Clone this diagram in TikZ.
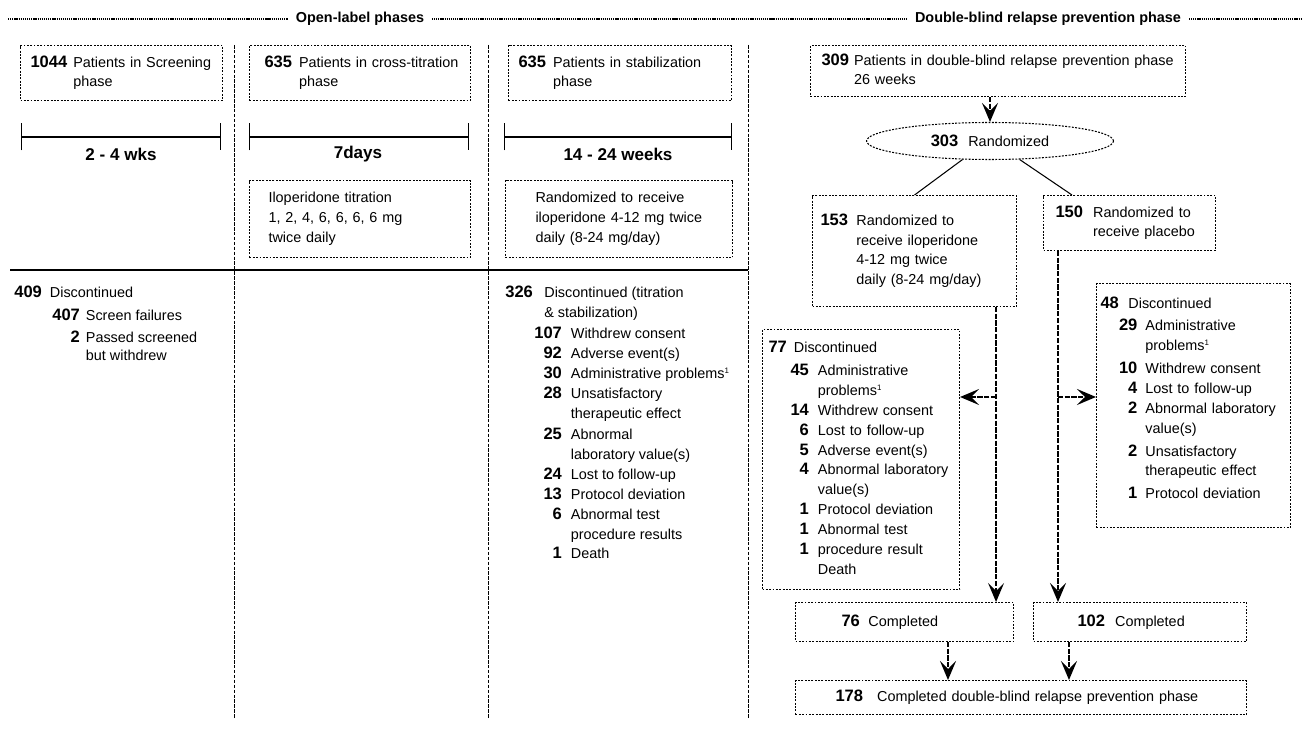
\documentclass[tikz,border=0pt]{standalone}
\usepackage{fontspec}
\setmainfont{Liberation Sans}
\usetikzlibrary{positioning,shapes.geometric,arrows.meta}

\newcommand{\nb}[1]{{\fontsize{9.4}{11.3}\selectfont\bfseries #1}}
\newcommand{\fn}{\textsuperscript{\fontsize{4.5}{5}\selectfont 1}}

\tikzset{
    box/.style={draw, dash pattern=on 1.1pt off 0.8pt, line width=0.6pt,
        anchor=north west, align=left, inner ysep=0pt},
    flow/.style={dash pattern=on 3pt off 0.8pt, line width=1pt,
        -{Stealth[length=3.8mm,width=3.2mm,inset=1.6mm]}},
    sep/.style={dash pattern=on 2pt off 0.8pt, line width=0.5pt},
    span/.style={line width=0.6pt, {Bar[width=5.4mm]}-{Bar[width=5.4mm]}},
    spanlabel/.style={font=\fontsize{9.7}{12}\selectfont\bfseries},
    phase/.style={fill=white, inner xsep=1.6mm, font=\fontsize{8.2}{10}\selectfont\bfseries}
}

\begin{document}
\begin{tikzpicture}[x=0.2mm, y=-0.2mm, font=\fontsize{8.2}{11.3}\selectfont]
\useasboundingbox (0,0) rectangle (1303,739);

% phases
\draw[line width=1.5pt, dash pattern=on 0.7pt off 0.5pt] (8,19) -- (1303,19);
\node[phase] (open) at (360,19) {Open-label phases};
\node[phase] (dbl) at (1048,19) {Double-blind relapse prevention phase};

\foreach \x in {234,488,748}
    \draw[sep] (\x,45) -- (\x,718);
\draw[line width=0.6pt] (10,270) -- (748,270);

% open-label columns
\node[box, text width=36.4mm, inner xsep=2mm, minimum height=11mm] (scr) at (20,45)
    {\begin{tabular}{@{}l@{\hspace{1.2mm}}l@{}}\nb{1044} & Patients in Screening\\ & phase\end{tabular}};
\node[box, text width=38.2mm, inner xsep=3mm, minimum height=11mm] (crs) at (249,45)
    {\begin{tabular}{@{}l@{\hspace{1.4mm}}l@{}}\nb{635} & Patients in cross-titration\\ & phase\end{tabular}};
\node[box, text width=40.6mm, inner xsep=2mm, minimum height=11mm] (stab) at (508,45)
    {\begin{tabular}{@{}l@{\hspace{1.4mm}}l@{}}\nb{635} & Patients in stabilization\\ & phase\end{tabular}};

\draw[span] (21,137) -- (221,137);
\node[spanlabel] (wk1) at (121,154) {2 - 4 wks};
\draw[span] (249,137) -- (469,137);
\node[spanlabel] (wk2) at (358,154) {7days};
\draw[span] (504,137) -- (732,137);
\node[spanlabel] (wk3) at (618,154) {14 - 24 weeks};

\node[box, text width=36.6mm, inner xsep=3.8mm, minimum height=15.4mm] (tit) at (249,180)
    {Iloperidone titration\\ 1, 2, 4, 6, 6, 6, 6 mg\\ twice daily};
\node[box, text width=33.4mm, inner xsep=6mm, minimum height=15.4mm] (rnd) at (505,180)
    {Randomized to receive\\ iloperidone 4-12 mg twice\\ daily (8-24 mg/day)};

\node[anchor=north west, inner sep=0pt] (dis409) at (14,283)
    {\begin{tabular}{@{\hspace{7.6mm}}r@{\hspace{1.2mm}}l@{}}
    \multicolumn{2}{@{}l@{}}{\nb{409}\hspace{1.6mm}Discontinued}\\[0.6mm]
    \nb{407} & Screen failures\\[0.6mm]
    \nb{2} & Passed screened\\[-0.4mm]
    & but withdrew
    \end{tabular}};

\node[anchor=north west, inner sep=0pt] (dis326) at (505,283)
    {\begin{tabular}{@{\hspace{5.8mm}}r@{\hspace{1.8mm}}l@{}}
    \multicolumn{2}{@{}l@{}}{\makebox[7.8mm][l]{\nb{326}}Discontinued (titration}\\
    \multicolumn{2}{@{}l@{}}{\hspace{7.8mm}\& stabilization)}\\[0.4mm]
    \nb{107} & Withdrew consent\\
    \nb{92} & Adverse event(s)\\
    \nb{30} & Administrative problems\fn\\
    \nb{28} & Unsatisfactory\\
    & therapeutic effect\\[0.3mm]
    \nb{25} & Abnormal\\
    & laboratory value(s)\\
    \nb{24} & Lost to follow-up\\
    \nb{13} & Protocol deviation\\
    \nb{6} & Abnormal test\\
    & procedure results\\
    \nb{1} & Death
    \end{tabular}};

% double-blind phase
\node[box, text width=70.6mm, inner xsep=2.2mm, minimum height=10.2mm] (b309) at (810,45)
    {\begin{tabular}{@{}l@{\hspace{1mm}}l@{}}\nb{309} & Patients in double-blind relapse prevention phase\\ & 26 weeks\end{tabular}};
\node[ellipse, draw, dash pattern=on 1.1pt off 0.8pt, line width=0.6pt, minimum width=49.4mm,
    minimum height=7.4mm, inner sep=0pt] (rand) at (990,141) {\nb{303}\hspace{2mm}Randomized};

\node[box, text width=37.6mm, inner xsep=1.6mm, minimum height=22.2mm] (b153) at (812,195)
    {\begin{tabular}{@{}l@{\hspace{1.66mm}}l@{}}\nb{153} & Randomized to\\ & receive iloperidone\\
    & 4-12 mg twice\\ & daily (8-24 mg/day)\end{tabular}};
\node[box, text width=29.6mm, inner xsep=2.4mm, minimum height=11mm] (b150) at (1043,195)
    {\begin{tabular}{@{}l@{\hspace{2mm}}l@{}}\nb{150} & Randomized to\\ & receive placebo\end{tabular}};

\node[box, text width=37mm, inner xsep=1.2mm, minimum height=52mm] (b77) at (762,329)
    {\begin{tabular}{@{\hspace{4.4mm}}r@{\hspace{1.8mm}}l@{}}
    \multicolumn{2}{@{}l@{}}{\nb{77}\hspace{1.4mm}Discontinued}\\[0.6mm]
    \nb{45} & Administrative\\
    & problems\fn\\
    \nb{14} & Withdrew consent\\
    \nb{6} & Lost to follow-up\\
    \nb{5} & Adverse event(s)\\
    \nb{4} & Abnormal laboratory\\
    & value(s)\\
    \nb{1} & Protocol deviation\\
    \nb{1} & Abnormal test\\
    \nb{1} & procedure result\\
    & Death
    \end{tabular}};
\node[box, text width=37.2mm, inner xsep=0.8mm, minimum height=48.8mm] (b48) at (1096,283)
    {\begin{tabular}{@{\hspace{3.7mm}}r@{\hspace{1.6mm}}l@{}}
    \multicolumn{2}{@{}l@{}}{\nb{48}\hspace{1.9mm}Discontinued}\\[0.6mm]
    \nb{29} & Administrative\\
    & problems\fn\\[0.6mm]
    \nb{10} & Withdrew consent\\
    \nb{4} & Lost to follow-up\\
    \nb{2} & Abnormal laboratory\\
    & value(s)\\[0.6mm]
    \nb{2} & Unsatisfactory\\
    & therapeutic effect\\[0.6mm]
    \nb{1} & Protocol deviation\\[2.4mm]
    \end{tabular}};

\node[box, text width=25.2mm, inner xsep=9.2mm, minimum height=7.8mm] (b76) at (795,602)
    {\nb{76}\hspace{1.7mm}Completed};
\node[box, text width=25mm, inner xsep=8.8mm, minimum height=7.8mm] (b102) at (1033,602)
    {\nb{102}\hspace{2mm}Completed};
\node[box, text width=74.2mm, inner xsep=8mm, minimum height=6.8mm] (b178) at (795,680)
    {\nb{178}\hspace{2.8mm}Completed double-blind relapse prevention phase};

% connectors
\draw[flow] (rand |- b309.south) -- (rand);
\draw[line width=0.6pt] (rand.214) -- (b153.north);
\draw[line width=0.6pt] (rand.328) -- ([xshift=5.8mm]b150.north west);

\coordinate (a76) at ([xshift=-3.6mm]b76.north east);
\coordinate (a102) at ([xshift=5mm]b102.north west);
\draw[flow] (b153.south -| a76) -- (a76);
\draw[flow] (b150.south -| a102) -- (a102);
\coordinate (j77) at (a76 |- 0,397);
\coordinate (j48) at (a102 |- 0,397);
\draw[flow] (j77) -- (j77 -| b77.east);
\draw[flow] (j48) -- (j48 -| b48.west);

\draw[flow] ([xshift=30.6mm]b76.south west) coordinate (c76) -- (c76 |- b178.north);
\draw[flow] ([xshift=7.2mm]b102.south west) coordinate (c102) -- (c102 |- b178.north);
\end{tikzpicture}
\end{document}
